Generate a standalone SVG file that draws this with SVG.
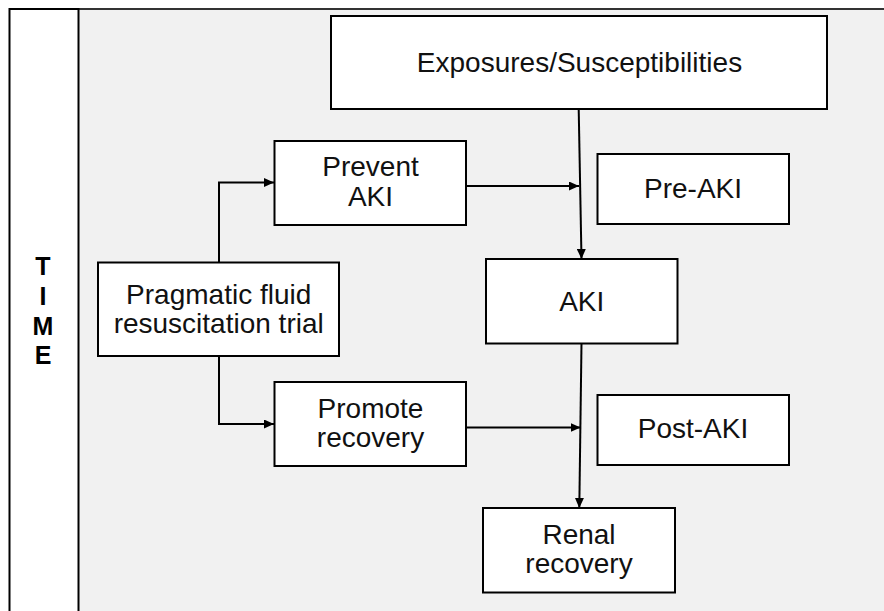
<svg xmlns="http://www.w3.org/2000/svg" width="884" height="611" viewBox="0 0 884 611">
<style>
.box{fill:#fff;stroke:#000;stroke-width:2}
.t{font-family:"Liberation Sans",Arial,sans-serif;font-size:28px;fill:#111;text-anchor:middle}
.tb{font-family:"Liberation Sans",Arial,sans-serif;font-size:25px;font-weight:bold;fill:#000;text-anchor:middle}
.c{fill:none;stroke:#000;stroke-width:2}
</style>
<defs>
<marker id="arr" markerUnits="userSpaceOnUse" markerWidth="11" markerHeight="9" refX="10" refY="4.5" orient="auto">
<path d="M0,0 L10,4.5 L0,9 z" fill="#000"/>
</marker>
</defs>
<g id="background">
<rect x="78.5" y="9" width="806" height="603" fill="#f1f1f1"/>
<line x1="9" y1="9" x2="884" y2="9" stroke="#333" stroke-width="2"/>
</g>
<g id="time">
<rect x="9.5" y="9" width="69" height="603" fill="#fff" stroke="#000" stroke-width="2"/>
<text class="tb" x="43" y="275">T</text>
<text class="tb" x="43" y="304.5">I</text>
<text class="tb" x="43" y="334.5">M</text>
<text class="tb" x="43" y="364">E</text>
</g>
<g id="connectors">
<line class="c" x1="578.7" y1="109" x2="581.5" y2="259" marker-end="url(#arr)"/>
<line class="c" x1="466" y1="186" x2="579" y2="186" marker-end="url(#arr)"/>
<polyline class="c" points="219,262 219,182.5 274,182.5" marker-end="url(#arr)"/>
<polyline class="c" points="219,356 219,424 274,424" marker-end="url(#arr)"/>
<line class="c" x1="466" y1="427.5" x2="580.5" y2="427.5" marker-end="url(#arr)"/>
<line class="c" x1="581.5" y1="343" x2="579.3" y2="508" marker-end="url(#arr)"/>
</g>
<g id="exposures">
<rect class="box" x="331" y="16" width="496" height="93"/>
<text class="t" x="579.5" y="72">Exposures/Susceptibilities</text>
</g>
<g id="prevent">
<rect class="box" x="274.5" y="141" width="191.5" height="84"/>
<text class="t" x="370.5" y="176">Prevent</text>
<text class="t" x="370.5" y="205.5">AKI</text>
</g>
<g id="preaki">
<rect class="box" x="597.5" y="154" width="191.5" height="70"/>
<text class="t" x="693" y="197.5">Pre-AKI</text>
</g>
<g id="pragmatic">
<rect class="box" x="98" y="262.5" width="241" height="93.5"/>
<text class="t" x="218.7" y="303.5">Pragmatic fluid</text>
<text class="t" x="218.7" y="333">resuscitation trial</text>
</g>
<g id="aki">
<rect class="box" x="486" y="259" width="191.5" height="84.5"/>
<text class="t" x="581.7" y="310.5">AKI</text>
</g>
<g id="promote">
<rect class="box" x="274.5" y="382" width="191.5" height="84"/>
<text class="t" x="370.5" y="417.5">Promote</text>
<text class="t" x="370.5" y="446.5">recovery</text>
</g>
<g id="postaki">
<rect class="box" x="597.5" y="395" width="191.5" height="70"/>
<text class="t" x="693" y="438.3">Post-AKI</text>
</g>
<g id="renal">
<rect class="box" x="483" y="508" width="192" height="84.5"/>
<text class="t" x="579" y="544">Renal</text>
<text class="t" x="579" y="573.3">recovery</text>
</g>
</svg>
